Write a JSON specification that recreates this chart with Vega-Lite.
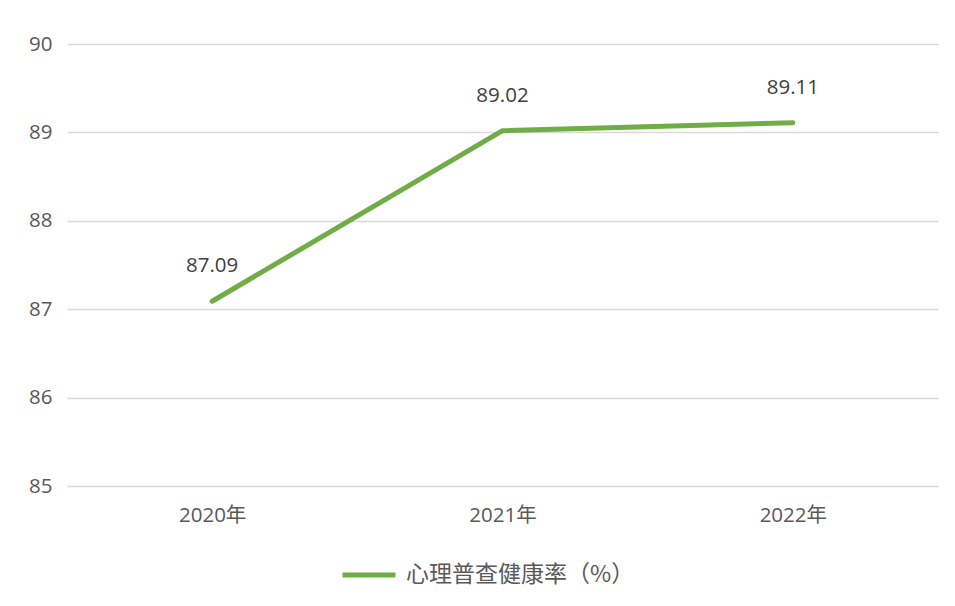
{
  "$schema": "https://vega.github.io/schema/vega-lite/v6.json",
  "width": 871,
  "height": 442,
  "autosize": {"type": "none"},
  "padding": {"left": 67, "top": 44, "right": 17, "bottom": 120},
  "background": "white",
  "config": {
    "view": {"stroke": null},
    "font": "Open Sans, Noto Sans CJK SC",
    "axis": {"labelFont": "Open Sans, Noto Sans CJK SC", "labelColor": "#595959", "labelFontSize": 20.5}
  },
  "data": {
    "values": [
      {"year": "2020年", "value": 87.09, "series": "心理普查健康率（%）"},
      {"year": "2021年", "value": 89.02, "series": "心理普查健康率（%）"},
      {"year": "2022年", "value": 89.11, "series": "心理普查健康率（%）"}
    ]
  },
  "encoding": {
    "x": {
      "field": "year", "type": "ordinal", "title": null,
      "scale": {"paddingInner": 0, "paddingOuter": 0},
      "axis": {"labelAngle": 0, "domain": false, "ticks": false, "labelPadding": 19, "grid": false}
    },
    "y": {
      "field": "value", "type": "quantitative", "title": null,
      "scale": {"domain": [85, 90], "nice": false, "zero": false},
      "axis": {"values": [85, 86, 87, 88, 89, 90], "domain": false, "ticks": false, "labelPadding": 15, "gridColor": "#d9d9d9", "gridWidth": 1.5}
    }
  },
  "layer": [
    {
      "mark": {"type": "line", "strokeWidth": 5, "strokeCap": "round", "strokeJoin": "round"},
      "encoding": {
        "color": {
          "field": "series", "type": "nominal",
          "scale": {"range": ["#70AD47"]},
          "legend": {
            "title": null, "orient": "none", "legendX": 273, "legendY": 502,
            "symbolType": "stroke", "symbolSize": 2809, "symbolStrokeWidth": 5,
            "labelFontSize": 23, "labelColor": "#595959", "labelFont": "Noto Sans CJK SC", "labelOffset": 8, "labelLimit": 400
          }
        }
      }
    },
    {
      "mark": {"type": "text", "dy": -35, "fontSize": 20.5, "color": "#404040", "font": "Open Sans, Noto Sans CJK SC"},
      "encoding": {"text": {"field": "value", "type": "quantitative", "format": ".2f"}}
    }
  ]
}
